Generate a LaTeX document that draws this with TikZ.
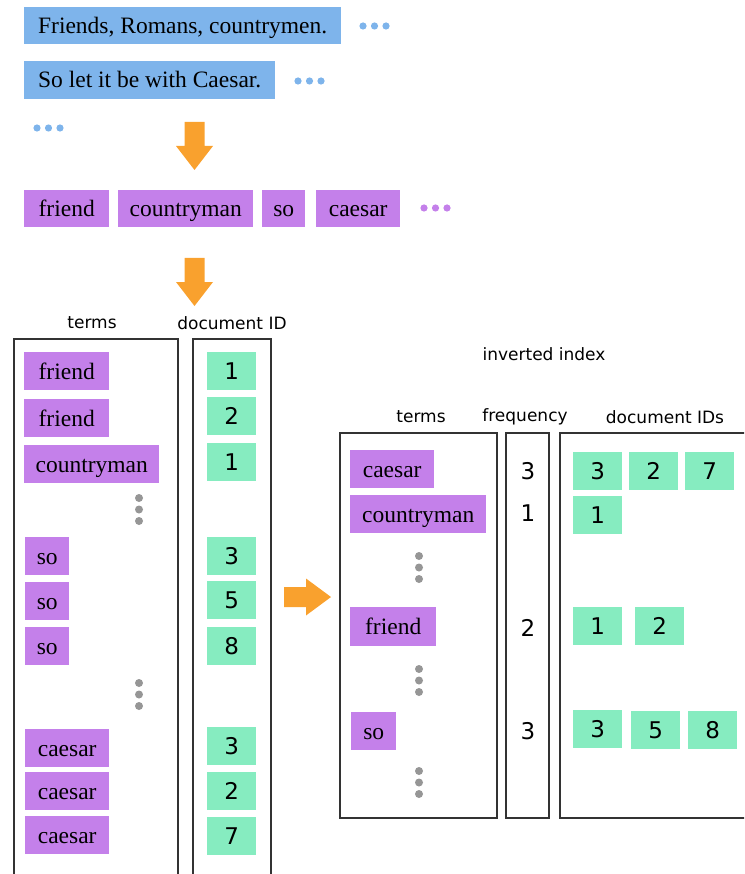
\documentclass[tikz,border=0pt]{standalone}
\usepackage{fontspec}
\setmainfont{Liberation Serif}
\newfontfamily\labelfont{DejaVu Sans}
\definecolor{sentblue}{RGB}{126,180,235}
\definecolor{termpurple}{RGB}{196,128,234}
\definecolor{idgreen}{RGB}{134,236,192}
\definecolor{arroworange}{RGB}{249,161,46}
\definecolor{dotgray}{RGB}{150,150,150}
\newcommand{\wordFont}[0]{\fontsize{23.5}{28}\selectfont}
\newcommand{\idFont}[0]{\labelfont\fontsize{23}{28}\selectfont}
\newcommand{\headFont}[0]{\labelfont\fontsize{17}{20}\selectfont}
\newcommand{\rowDots}[3]{\fill[#3] (#1,#2) circle (3.6) ++(11.5,0) circle (3.6) ++(11.5,0) circle (3.6);}
\newcommand{\colDots}[2]{\fill[dotgray] (#1,#2) circle (4) ++(0,11.5) circle (4) ++(0,11.5) circle (4);}
\newcommand{\downArrow}[2]{\fill[arroworange] (#1-10,#2) -- (#1+10,#2) -- (#1+10,#2+24) -- (#1+18.5,#2+24) -- (#1,#2+48) -- (#1-18.5,#2+24) -- (#1-10,#2+24) -- cycle;}
\newcommand{\rightArrow}[2]{\fill[arroworange] (#1,#2-10) -- (#1+22,#2-10) -- (#1+22,#2-18.5) -- (#1+47,#2) -- (#1+22,#2+18.5) -- (#1+22,#2+10) -- (#1,#2+10) -- cycle;}

\begin{document}
\begin{tikzpicture}[x=1pt, y=-1pt]
  \tikzset{sentence/.style={fill=sentblue, anchor=north west, inner sep=0pt, minimum height=37pt, text height=18.5pt, text depth=3pt, font=\wordFont},
           word/.style={fill=termpurple, anchor=north west, inner sep=0pt, minimum height=38pt, text height=19pt, text depth=3pt, font=\wordFont},
           docid/.style={fill=idgreen, anchor=north west, inner sep=0pt, minimum width=49pt, minimum height=38pt, text height=19pt, text depth=3pt, font=\idFont},
           freq/.style={inner sep=0pt, font=\idFont},
           head/.style={inner sep=0pt, font=\headFont},
           column/.style={draw=black!80, line width=1.3pt}}
  \useasboundingbox (0,0) rectangle (744,874);
  \clip (0,0) rectangle (744,874);
  \node[sentence, minimum width=317pt] (S-1) at (24,7) {Friends, Romans, countrymen.};
  \node[sentence, minimum width=251pt, minimum height=38pt] (S-2) at (24,61) {So let it be with Caesar.};
  \rowDots{363}{26}{sentblue}
  \rowDots{298}{81}{sentblue}
  \rowDots{37}{128}{sentblue}
  \downArrow{194.5}{122}
  \node[word, minimum width=85pt, minimum height=37pt] (W-1) at (24,190) {friend};
  \node[word, minimum width=135pt, minimum height=37pt] (W-2) at (118,190) {countryman};
  \node[word, minimum width=43pt, minimum height=37pt] (W-3) at (262,190) {so};
  \node[word, minimum width=84pt, minimum height=37pt] (W-4) at (316,190) {caesar};
  \rowDots{424}{208}{termpurple}
  \downArrow{194.5}{258}
  \node[head] (H-1-1) at (92,323) {terms};
  \node[head] (H-1-2) at (232,323) {document ID};
  \draw[column] (14,339) rectangle (178,900);
  \draw[column] (193,339) rectangle (271,900);
  \node[word, minimum width=85pt] (T-1-1) at (24,352) {friend};
  \node[word, minimum width=85pt] (T-1-2) at (24,399) {friend};
  \node[word, minimum width=135pt] (T-1-3) at (24,445) {countryman};
  \colDots{139}{498}
  \node[word, minimum width=44pt] (T-1-4) at (25,537) {so};
  \node[word, minimum width=44pt] (T-1-5) at (25,582) {so};
  \node[word, minimum width=44pt] (T-1-6) at (25,627) {so};
  \colDots{139}{683}
  \node[word, minimum width=84pt] (T-1-7) at (25,729) {caesar};
  \node[word, minimum width=84pt] (T-1-8) at (25,772) {caesar};
  \node[word, minimum width=84pt] (T-1-9) at (25,816) {caesar};
  \node[docid] (D-1-1) at (207,352) {1};
  \node[docid] (D-1-2) at (207,397) {2};
  \node[docid] (D-1-3) at (207,443) {1};
  \node[docid] (D-1-4) at (207,537) {3};
  \node[docid] (D-1-5) at (207,581) {5};
  \node[docid] (D-1-6) at (207,627) {8};
  \node[docid] (D-1-7) at (207,727) {3};
  \node[docid] (D-1-8) at (207,772) {2};
  \node[docid] (D-1-9) at (207,817) {7};
  \rightArrow{284}{597}
  \node[head] (H-2-0) at (544,354) {inverted index};
  \node[head] (H-2-1) at (421,417) {terms};
  \node[head] (H-2-2) at (525,417) {frequency};
  \node[head] (H-2-3) at (665,417) {document IDs};
  \draw[column] (340,433) rectangle (497,818);
  \draw[column] (506,433) rectangle (549,818);
  \draw[column] (560,433) rectangle (770,818);
  \node[word, minimum width=84pt] (T-2-1) at (350,450) {caesar};
  \node[word, minimum width=136pt] (T-2-2) at (350,495) {countryman};
  \colDots{419}{556}
  \node[word, minimum width=86pt, minimum height=39pt] (T-2-3) at (350,607) {friend};
  \colDots{419}{669}
  \node[word, minimum width=45pt] (T-2-4) at (351,712) {so};
  \colDots{419}{771}
  \node[freq] (F-1) at (528,471) {3};
  \node[freq] (F-2) at (528,513) {1};
  \node[freq] (F-3) at (528,628) {2};
  \node[freq] (F-4) at (528,731) {3};
  \node[docid] (D-2-1) at (573,452) {3};
  \node[docid] (D-2-2) at (629,452) {2};
  \node[docid] (D-2-3) at (685,452) {7};
  \node[docid] (D-2-4) at (573,496) {1};
  \node[docid] (D-2-5) at (573,607) {1};
  \node[docid] (D-2-6) at (635,607) {2};
  \node[docid] (D-2-7) at (573,710) {3};
  \node[docid] (D-2-8) at (631,711) {5};
  \node[docid] (D-2-9) at (688,711) {8};
\end{tikzpicture}
\end{document}
